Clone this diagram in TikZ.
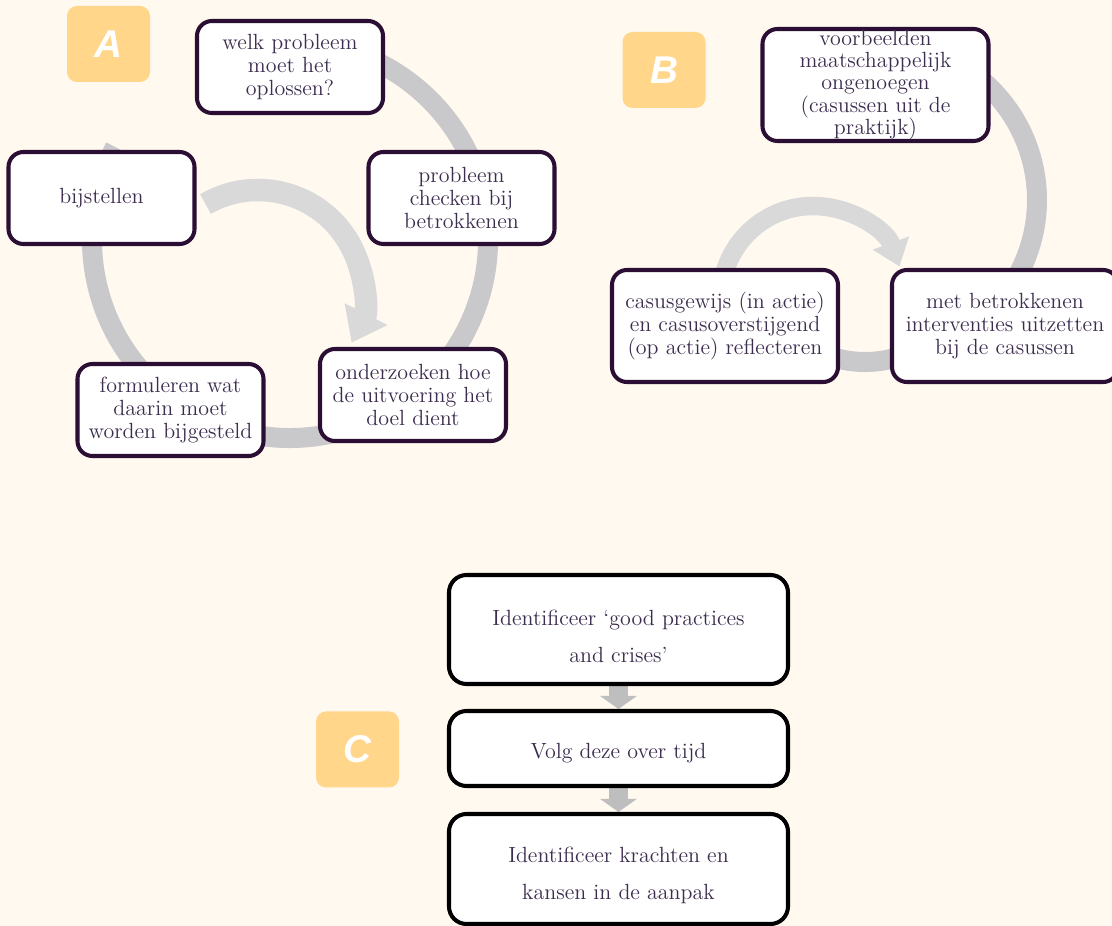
\documentclass[tikz,border=0pt]{standalone}
\usepackage{xcolor}
\usepackage{fontspec}
\newfontfamily\letterfont{Liberation Sans}
\usetikzlibrary{arrows.meta,shapes,calc,positioning,backgrounds}

\definecolor{cream}{HTML}{FFF9F0}
\definecolor{tag}{HTML}{FFD68A}
\definecolor{plum}{HTML}{2A0E33}
\definecolor{inkt}{HTML}{3C2C4E}
\definecolor{ring}{HTML}{C9C9CB}
\definecolor{ringlicht}{HTML}{D9D9D9}
\definecolor{pijl}{HTML}{BEBEBE}

\begin{document}
\begin{tikzpicture}
		\tikzstyle{every node}=[font=\fontsize{12.5}{13}\selectfont, text=inkt]
		\tikzstyle{stap}=[draw=plum, line width=2.3pt, fill=white, rounded corners=0.3cm, align=center, inner sep=1pt]
		\tikzstyle{stapA}=[stap, minimum width=3.72cm, minimum height=1.84cm]
		\tikzstyle{stapB}=[stap, minimum width=4.52cm, minimum height=2.24cm]
		\tikzstyle{stapC}=[draw=black, line width=2.3pt, fill=white, rounded corners=0.35cm, minimum width=6.78cm]
		\tikzstyle{tekstC}=[align=center, yshift=-0.13cm, font=\fontsize{12.5}{21}\selectfont]
		\tikzstyle{letter}=[fill=tag, rounded corners=0.2cm, minimum width=1.66cm, minimum height=1.52cm, text=white, font=\fontsize{22}{26}\letterfont\bfseries\itshape]
		\tikzstyle{kring}=[line width=0.4cm, draw=ring]
		\tikzstyle{blokpijl}=[line width=0.38cm, draw=pijl, -{Triangle[length=0.26cm,width=0.72cm]}]
		\useasboundingbox (0,0) rectangle (22.24,18.52);
		% A
		\node [letter] (tagA) at (2.17,17.64) {A};
		\node [stapA] (welk) at (5.8,17.18) {welk probleem\\moet het\\oplossen?};
		\node [stapA] (checken) at (9.23,14.56) {probleem\\checken bij\\betrokkenen};
		\node [stapA] (bijstellen) at (2.03,14.56) {bijstellen};
		\node [stapA] (formuleren) at (3.41,10.32) {formuleren wat\\daarin moet\\worden bijgesteld};
		\node [stapA] (onderzoeken) at (8.26,10.62) {onderzoeken hoe\\de uitvoering het\\doel dient};
		% B
		\node [letter] (tagB) at (13.28,17.12) {B};
		\node [stapB, label={[align=center, font=\fontsize{12.5}{12.6}\selectfont]center:voorbeelden\\maatschappelijk\\ongenoegen\\(casussen uit de\\praktijk)}] (voorbeelden) at (17.51,16.82) {};
		\node [stapB] (casusgewijs) at (14.5,12.0) {casusgewijs (in actie)\\en casusoverstijgend\\(op actie) reflecteren};
		\node [stapB] (interventies) at (20.1,12.0) {met betrokkenen\\interventies uitzetten\\bij de casussen};
		% C
		\node [letter] (tagC) at (7.15,3.53) {C};
		\node [stapC, minimum height=2.18cm, label={[tekstC]center:Identificeer ‘good practices\\and crises’}] (good) at (12.37,5.93) {};
		\node [stapC, minimum height=1.5cm, label={[tekstC, yshift=0.03cm]center:Volg deze over tijd}] (volg) at (12.37,3.55) {};
		\node [stapC, minimum height=2.2cm, label={[tekstC]center:Identificeer krachten en\\kansen in de aanpak}] (krachten) at (12.37,1.14) {};
		\begin{scope}[on background layer]
			\fill [cream] (0,0) rectangle (22.24,18.52);
			\draw [kring] (5.8,13.72) ++(100:3.96) arc [start angle=100, end angle=-208, radius=3.96];
			\draw [line width=0.45cm, draw=ringlicht, -{Triangle[length=0.64cm,width=0.92cm]}] (5.16,12.62) ++(120:2.1) arc [start angle=120, end angle=-27, radius=2.1];
			\draw [kring] (17.6,14.52) ++(55:3.14) arc [start angle=55, end angle=-40, radius=3.14];
			\draw [kring] (17.3,13.52) ++(-20:2.24) arc [start angle=-20, end angle=-160, radius=2.24];
			\draw [line width=0.37cm, draw=ringlicht, -{Triangle[length=0.5cm,width=0.74cm]}] (16.26,12.56) ++(180:1.84) arc [start angle=180, end angle=20, radius=1.84];
			\draw [blokpijl] (good) -- (volg);
			\draw [blokpijl] (volg) -- (krachten);
		\end{scope}
	\end{tikzpicture}
\end{document}
